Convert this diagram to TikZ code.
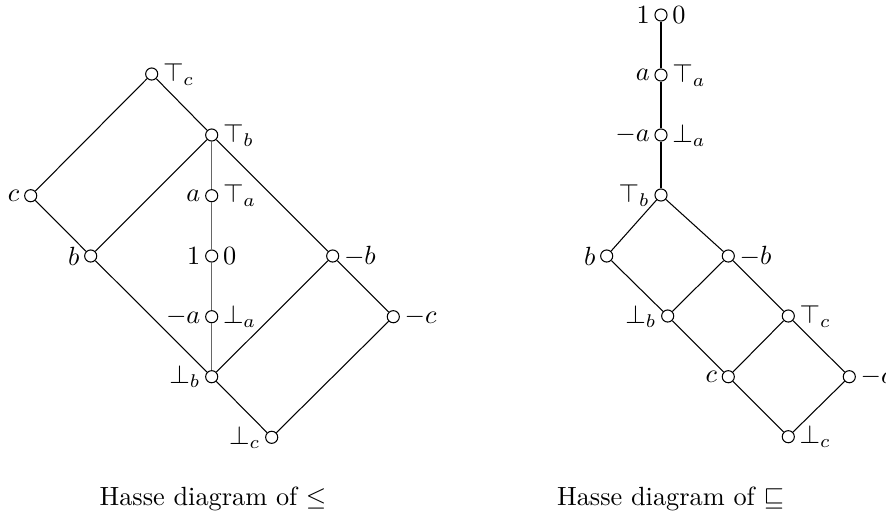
\documentclass[tikz,border=0pt]{standalone}
\begin{document}
\begin{tikzpicture}[x=0.38pt,y=-0.38pt,
  v/.style={circle,draw,fill=white,inner sep=0pt,minimum size=4.6pt,line width=0.4pt},
  edge/.style={line width=0.4pt},
  grayedge/.style={line width=0.5pt,draw=black!60},
  every label/.style={inner sep=1.6pt},
  captext/.style={anchor=base,inner sep=0pt}]
\useasboundingbox (0,0) rectangle (886,518);
\clip (0,0) rectangle (886,518);
% left diagram
\node[v,label={right:$\top_c$}] (Ltc) at (151.7,74) {};
\node[v,label={right:$\top_b$}] (Ltb) at (211.7,135) {};
\node[v,label={left:$c$}] (Lc) at (30.7,195.7) {};
\node[v,label={left:$a$},label={right:$\top_a$}] (La) at (211.7,195.7) {};
\node[v,label={left:$b$}] (Lb) at (90.7,256) {};
\node[v,label={left:$1$},label={right:$0$}] (L1) at (211.7,256) {};
\node[v,label={right:$-b$}] (Lnb) at (332.7,256) {};
\node[v,label={left:$-a$},label={right:$\bot_a$}] (Lna) at (211.7,316.7) {};
\node[v,label={right:$-c$}] (Lnc) at (393.3,316.7) {};
\node[v,label={left:$\bot_b$}] (Lbb) at (211.7,376.7) {};
\node[v,label={left:$\bot_c$}] (Lbc) at (271.7,437.3) {};
\draw[edge] (Ltc) -- (Lc);
\draw[edge] (Ltc) -- (Ltb);
\draw[edge] (Lc) -- (Lb);
\draw[edge] (Ltb) -- (Lb);
\draw[edge] (Ltb) -- (Lnb);
\draw[edge] (Lb) -- (Lbb);
\draw[edge] (Lnb) -- (Lbb);
\draw[edge] (Lnb) -- (Lnc);
\draw[edge] (Lnc) -- (Lbc);
\draw[edge] (Lbb) -- (Lbc);
\draw[grayedge] (Ltb) -- (La);
\draw[grayedge] (La) -- (L1);
\draw[grayedge] (L1) -- (Lna);
\draw[grayedge] (Lna) -- (Lbb);
% right diagram
\node[v,label={left:$1$},label={right:$0$}] (R1) at (661,15) {};
\node[v,label={left:$a$},label={right:$\top_a$}] (Ra) at (661,75) {};
\node[v,label={left:$-a$},label={right:$\bot_a$}] (Rna) at (661,135) {};
\node[v,label={left:$\top_b$}] (Rtb) at (661,195) {};
\node[v,label={left:$b$}] (Rb) at (606.7,256) {};
\node[v,label={right:$-b$}] (Rnb) at (728.3,256) {};
\node[v,label={left:$\bot_b$}] (Rbb) at (667.7,316) {};
\node[v,label={right:$\top_c$}] (Rtc) at (788.3,316) {};
\node[v,label={left:$c$}] (Rc) at (728.3,376.7) {};
\node[v,label={right:$-c$}] (Rnc) at (849.3,376.7) {};
\node[v,label={right:$\bot_c$}] (Rbc) at (788.3,436.7) {};
\draw[edge] (R1) -- (Ra);
\draw[edge] (Ra) -- (Rna);
\draw[edge] (Rna) -- (Rtb);
\draw[edge] (Rtb) -- (Rb);
\draw[edge] (Rtb) -- (Rnb);
\draw[edge] (Rb) -- (Rbb);
\draw[edge] (Rnb) -- (Rbb);
\draw[edge] (Rnb) -- (Rtc);
\draw[edge] (Rbb) -- (Rc);
\draw[edge] (Rtc) -- (Rc);
\draw[edge] (Rtc) -- (Rnc);
\draw[edge] (Rc) -- (Rbc);
\draw[edge] (Rnc) -- (Rbc);
% captions
\node[captext] (capL) at (213,505.7) {Hasse diagram of $\leq$};
\node[captext] (capR) at (670.5,505.7) {Hasse diagram of $\sqsubseteq$};
\end{tikzpicture}
\end{document}
